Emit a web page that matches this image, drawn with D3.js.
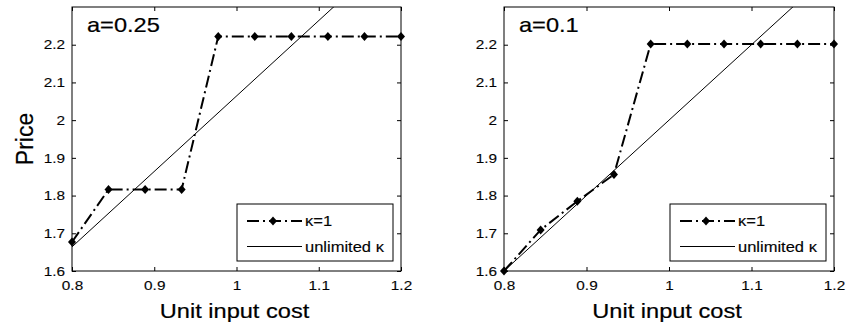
<!DOCTYPE html>
<html>
<head>
<meta charset="utf-8">
<script src="https://cdn.jsdelivr.net/npm/d3@7"></script>
<style>
  body { margin: 0; background: #fff; }
  text { font-family: "Liberation Sans", Arial, sans-serif; fill: #000; }
</style>
</head>
<body>
<svg id="chart" width="848" height="326"></svg>
<script>
// data
const cost = [0.8, 0.8444, 0.8889, 0.9333, 0.9778, 1.0222, 1.0667, 1.1111, 1.1556, 1.2];
const priceKappa1A025 = [1.677, 1.816, 1.816, 1.816, 2.222, 2.222, 2.222, 2.222, 2.222, 2.222];
const priceKappa1A01 = [1.6, 1.709, 1.785, 1.856, 2.202, 2.202, 2.202, 2.202, 2.202, 2.202];
const unlimitedCost = [0.8, 1.2];
const unlimitedA025 = [1.664, 2.464];
const unlimitedA01 = [1.6, 2.4];

const xTicks = [0.8, 0.9, 1, 1.1, 1.2];
const xTickLabels = ["0.8", "0.9", "1", "1.1", "1.2"];
const yTicks = [1.6, 1.7, 1.8, 1.9, 2, 2.1, 2.2];
const yTickLabels = ["1.6", "1.7", "1.8", "1.9", "2", "2.1", "2.2"];
const panelTitles = ["a=0.25", "a=0.1"];
const legendLabels = ["\u03BA=1", "unlimited \u03BA"];

const SX = 1.18; // the source picture's text is a bit wider than Arial
const plotTop = 7, plotBottom = 271;

const panels = [
  { left: 72, right: 401, title: panelTitles[0], kappa: priceKappa1A025, unlimited: unlimitedA025 },
  { left: 504, right: 834, title: panelTitles[1], kappa: priceKappa1A01, unlimited: unlimitedA01 }
];

const svg = d3.select('#chart');

function stretchText(sel) {
  sel.each(function() {
    const t = d3.select(this);
    const tx = +t.attr('x') || 0;
    t.attr('x', 0).attr('transform', `translate(${tx},0) scale(${SX},1)`);
  });
}

function diamond(g) {
  g.append('path').attr('d', 'M0,-4.5L4,0L0,4.5L-4,0Z').attr('fill', '#000');
}

panels.forEach(function(p, idx) {
  const x = d3.scaleLinear().domain([0.8, 1.2]).range([p.left, p.right]);
  const y = d3.scaleLinear().domain([1.6, 2.3]).range([plotBottom, plotTop]);
  const g = svg.append('g');

  g.append('clipPath').attr('id', `clip-${idx}`)
    .append('rect')
    .attr('x', p.left).attr('y', plotTop)
    .attr('width', p.right - p.left).attr('height', plotBottom - plotTop);

  // axes, ticks pointing inward like matlab
  const xb = g.append('g').attr('transform', `translate(0,${plotBottom})`)
    .call(d3.axisBottom(x).tickValues(xTicks).tickFormat((d, i) => xTickLabels[i]).tickSize(-4).tickPadding(10));
  const xt = g.append('g').attr('transform', `translate(0,${plotTop})`)
    .call(d3.axisTop(x).tickValues(xTicks).tickFormat('').tickSize(-4));
  const yl = g.append('g').attr('transform', `translate(${p.left},0)`)
    .call(d3.axisLeft(y).tickValues(yTicks).tickFormat((d, i) => yTickLabels[i]).tickSize(-4).tickPadding(7));
  const yr = g.append('g').attr('transform', `translate(${p.right},0)`)
    .call(d3.axisRight(y).tickValues(yTicks).tickFormat('').tickSize(-4));

  [xb, xt, yl, yr].forEach(a => {
    a.select('.domain').remove();
    a.selectAll('line').attr('stroke', '#000');
    a.selectAll('text').attr('font-size', 13).attr('font-family', '"Liberation Sans", Arial, sans-serif')
      .attr('fill', '#333').attr('stroke', '#333').attr('stroke-width', 0.15);
  });
  stretchText(xb.selectAll('text'));
  stretchText(yl.selectAll('text'));

  g.append('rect')
    .attr('x', p.left).attr('y', plotTop)
    .attr('width', p.right - p.left).attr('height', plotBottom - plotTop)
    .attr('fill', 'none').attr('stroke', '#000').attr('stroke-width', 1);

  // unlimited kappa line
  const unl = unlimitedCost.map((c, i) => [c, p.unlimited[i]]);
  g.append('path')
    .attr('clip-path', `url(#clip-${idx})`)
    .attr('d', d3.line().x(d => x(d[0])).y(d => y(d[1]))(unl))
    .attr('fill', 'none').attr('stroke', '#000').attr('stroke-width', 1);

  // kappa = 1 dash-dot with diamonds
  const k1 = cost.map((c, i) => [c, p.kappa[i]]);
  g.append('path')
    .attr('d', d3.line().x(d => x(d[0])).y(d => y(d[1]))(k1))
    .attr('fill', 'none').attr('stroke', '#000').attr('stroke-width', 2)
    .attr('stroke-dasharray', '12,4,2,4');
  k1.forEach(d => {
    g.append('g').attr('transform', `translate(${x(d[0])},${y(d[1])})`).call(diamond);
  });

  // panel title
  g.append('text')
    .attr('transform', `translate(${p.left + 15},32) scale(${SX},1)`)
    .attr('font-size', 20)
    .attr('stroke', '#000').attr('stroke-width', 0.2)
    .text(p.title);

  // x label
  g.append('text')
    .attr('transform', `translate(${(p.left + p.right) / 2 - 2},318) scale(${SX},1)`)
    .attr('text-anchor', 'middle')
    .attr('font-size', 20)
    .attr('stroke', '#000').attr('stroke-width', 0.2)
    .text('Unit input cost');

  // legend
  const lx = p.right - 164, ly = 204;
  const legend = g.append('g').attr('transform', `translate(${lx},${ly})`);
  legend.append('rect')
    .attr('width', 156).attr('height', 57)
    .attr('fill', '#fff').attr('stroke', '#000').attr('stroke-width', 1);
  legend.append('line')
    .attr('x1', 10).attr('x2', 65).attr('y1', 17).attr('y2', 17)
    .attr('stroke', '#000').attr('stroke-width', 2).attr('stroke-dasharray', '12,4,2,4');
  legend.append('g').attr('transform', 'translate(36,17)').call(diamond);
  legend.append('line')
    .attr('x1', 10).attr('x2', 65).attr('y1', 42.5).attr('y2', 42.5)
    .attr('stroke', '#000').attr('stroke-width', 1);
  legendLabels.forEach(function(label, i) {
    legend.append('text')
      .attr('transform', `translate(68,${22 + i * 25.5}) scale(${SX},1)`)
      .attr('font-size', 14)
      .attr('fill', '#222').attr('stroke', '#222').attr('stroke-width', 0.15)
      .text(label);
  });
});

// y label only on the left panel
svg.append('text')
  .attr('transform', `translate(33,139) rotate(-90)`)
  .attr('text-anchor', 'middle')
  .attr('font-size', 23)
  .attr('stroke', '#000').attr('stroke-width', 0.2)
  .text('Price');
</script>
</body>
</html>
